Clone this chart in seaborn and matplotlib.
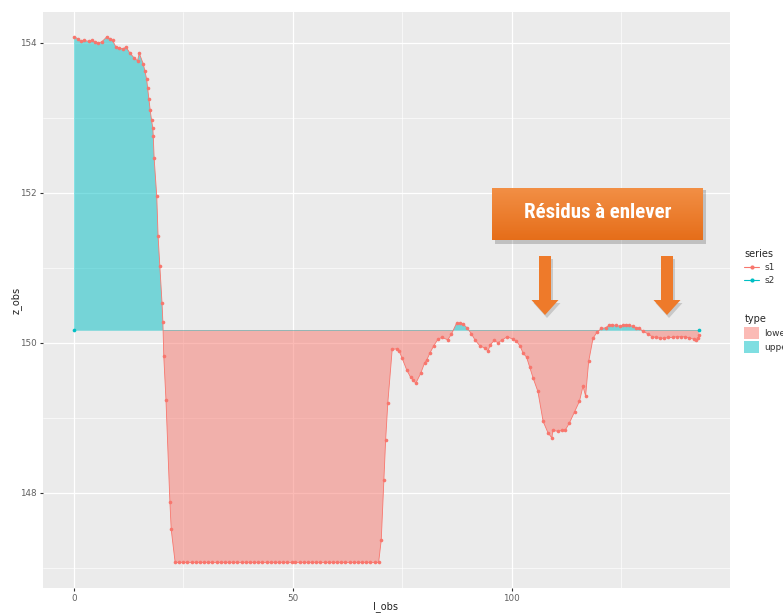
import numpy as np
import pandas as pd
import seaborn as sns
import matplotlib
matplotlib.use("Agg")
import matplotlib.pyplot as plt
from matplotlib import font_manager
from matplotlib.ticker import MultipleLocator
from matplotlib.patches import FancyArrow, Rectangle, Patch
from matplotlib.lines import Line2D

# ---------------- data ----------------
I_obs_s1 = [
    0.0, 1.0, 1.5, 2.3, 3.3, 4.2, 4.8, 5.5, 6.3, 7.5, 8.2, 8.8, 9.6, 10.3, 11.1, 11.9,
    12.8, 13.7, 14.5, 14.9, 15.8, 16.2, 16.6, 16.8, 17.1, 17.4, 17.7, 18.0, 18.1, 18.3,
    18.9, 19.2, 19.6, 20.1, 20.3, 20.5, 21.0, 21.9, 22.2, 23.1,
    24.0, 25.0, 25.9, 26.9, 27.8, 28.8, 29.7, 30.7, 31.6, 32.6, 33.5, 34.5, 35.4, 36.4,
    37.3, 38.3, 39.2, 40.2, 41.1, 42.1, 43.0, 44.0, 44.9, 45.9, 46.8, 47.8, 48.7, 49.7,
    50.6, 51.6, 52.5, 53.5, 54.4, 55.4, 56.3, 57.3, 58.2, 59.2, 60.1, 61.1, 62.0, 63.0,
    63.9, 64.9, 65.8, 66.8, 67.7, 68.7, 69.6,
    70.2, 70.8, 71.2, 71.7, 72.7, 73.8, 74.3, 75.0, 76.0, 76.9, 77.5, 78.1, 79.2, 80.1,
    80.6, 81.3, 82.2, 83.2, 84.1, 85.4, 86.2, 87.4, 88.1, 88.9, 89.8, 90.8, 91.6, 92.7,
    93.8, 94.6, 95.1, 96.0, 96.9, 97.9, 99.0, 100.2, 101.1, 102.0, 102.6, 103.4, 104.1,
    104.9, 106.0, 107.2, 108.3, 109.2, 109.4, 110.6, 111.5, 112.3, 113.2, 114.4, 115.5,
    116.3, 116.9, 117.6, 118.6, 119.5, 120.5, 121.5, 122.2, 123.0, 123.9, 124.8, 125.4,
    126.2, 126.9, 127.7, 128.5, 129.2, 130.1, 131.1, 132.1, 133.0, 133.9, 134.9, 135.8,
    136.8, 137.7, 138.7, 139.7, 140.6, 141.6, 142.2, 142.7, 142.8,
]
z_obs_s1 = [
    154.08, 154.05, 154.02, 154.03, 154.02, 154.03, 154.01, 154.00, 154.01, 154.08, 154.05,
    154.03, 153.94, 153.93, 153.92, 153.94, 153.86, 153.80, 153.76, 153.86, 153.72, 153.62,
    153.51, 153.40, 153.25, 153.10, 152.97, 152.86, 152.75, 152.46, 151.95, 151.42, 151.02,
    150.53, 150.27, 149.82, 149.24, 147.88, 147.51, 147.07,
    147.07, 147.07, 147.07, 147.07, 147.07, 147.07, 147.07, 147.07, 147.07, 147.07, 147.07,
    147.07, 147.07, 147.07, 147.07, 147.07, 147.07, 147.07, 147.07, 147.07, 147.07, 147.07,
    147.07, 147.07, 147.07, 147.07, 147.07, 147.07, 147.07, 147.07, 147.07, 147.07, 147.07,
    147.07, 147.07, 147.07, 147.07, 147.07, 147.07, 147.07, 147.07, 147.07, 147.07, 147.07,
    147.07, 147.07, 147.07, 147.07, 147.07,
    147.37, 148.17, 148.70, 149.20, 149.91, 149.92, 149.89, 149.79, 149.64, 149.54, 149.50,
    149.46, 149.59, 149.73, 149.77, 149.86, 149.96, 150.05, 150.07, 150.04, 150.11, 150.26,
    150.26, 150.25, 150.20, 150.12, 150.04, 149.96, 149.93, 149.89, 149.97, 150.03, 150.00,
    150.04, 150.08, 150.05, 150.02, 149.95, 149.86, 149.81, 149.68, 149.53, 149.35, 148.95,
    148.80, 148.73, 148.83, 148.82, 148.83, 148.84, 148.93, 149.08, 149.22, 149.42, 149.29,
    149.75, 150.06, 150.14, 150.19, 150.20, 150.23, 150.24, 150.23, 150.22, 150.23, 150.24,
    150.23, 150.22, 150.20, 150.19, 150.15, 150.12, 150.08, 150.07, 150.06, 150.06, 150.07,
    150.07, 150.08, 150.08, 150.08, 150.06, 150.05, 150.04, 150.06, 150.10,
]
I_obs_s2 = [0.0, 142.8]
z_obs_s2 = [150.17, 150.17]

series_names = ["s1", "s2"]
type_names = ["lower", "upper"]
x_ticks = [0, 50, 100]
y_ticks = [148, 150, 152, 154]
annotation = "Résidus à enlever"

# ---------------- style ----------------
RED = "#F8766D"
CYAN = "#00BFC4"

sns.set_theme(style="darkgrid", rc={
    "axes.facecolor": "#EBEBEB",
    "grid.color": "white",
    "xtick.major.size": 2.5,
    "ytick.major.size": 2.5,
    "xtick.major.width": 0.8,
    "ytick.major.width": 0.8,
    "xtick.color": "#333333",
    "ytick.color": "#333333",
    "xtick.bottom": True,
    "ytick.left": True,
})
plt.rcParams["font.family"] = ["DejaVu Sans"]

W, H = 783, 614
fig = plt.figure(figsize=(W / 100, H / 100), dpi=100)
fig.patch.set_facecolor("white")

def fx(px):
    return px / W

def fy(py):
    return 1 - py / H

ax = fig.add_axes([fx(43), fy(588), fx(730) - fx(43), fy(12) - fy(588)])

df = pd.DataFrame({
    "I_obs": I_obs_s1 + I_obs_s2,
    "z_obs": z_obs_s1 + z_obs_s2,
    "series": ["s1"] * len(I_obs_s1) + ["s2"] * len(I_obs_s2),
})

base = z_obs_s2[0]
xs = np.array(I_obs_s1)
zs = np.array(z_obs_s1)
ax.fill_between(xs, zs, base, where=zs >= base, interpolate=True,
                facecolor=CYAN, alpha=0.5, linewidth=0, zorder=2)
ax.fill_between(xs, zs, base, where=zs <= base, interpolate=True,
                facecolor=RED, alpha=0.5, linewidth=0, zorder=2)

sns.lineplot(data=df[df.series == "s2"], x="I_obs", y="z_obs", color=CYAN,
             linewidth=0.6, alpha=0.45, sort=False, estimator=None, legend=False,
             ax=ax, zorder=3)
sns.scatterplot(data=df[df.series == "s2"], x="I_obs", y="z_obs", color=CYAN,
                s=7, linewidth=0, legend=False, ax=ax, zorder=4)
sns.lineplot(data=df[df.series == "s1"], x="I_obs", y="z_obs", color=RED,
             marker="o", markersize=2.6, markeredgewidth=0, linewidth=0.6,
             sort=False, estimator=None, legend=False, ax=ax, zorder=4)

ax.set_xlim(-7.1, 149.9)
ax.set_ylim(146.73, 154.41)
ax.set_xticks(x_ticks)
ax.set_yticks(y_ticks)
ax.xaxis.set_minor_locator(MultipleLocator(25))
ax.yaxis.set_minor_locator(MultipleLocator(1))
ax.grid(which="major", color="white", linewidth=0.9)
ax.grid(which="minor", color="white", linewidth=0.45)
ax.tick_params(axis="both", which="major", labelsize=6.3, labelcolor="#606060", pad=2)
ax.tick_params(axis="both", which="minor", length=0)
for s in ax.spines.values():
    s.set_visible(False)
ax.set_xlabel("")
ax.set_ylabel("")
fig.text(fx(16), fy(300), "z_obs", rotation=90, ha="center", va="center",
         fontsize=7, color="#222222")
fig.text(fx(386), fy(607), "I_obs", ha="center", va="center",
         fontsize=7, color="#222222")

# ---------------- legends ----------------
h_series = [Line2D([0], [0], color=RED, marker="o", markersize=3, markeredgewidth=0, lw=0.8),
            Line2D([0], [0], color=CYAN, marker="o", markersize=3, markeredgewidth=0, lw=0.8)]
leg1 = fig.legend(h_series, series_names, title="series", loc="upper left",
                  bbox_to_anchor=(fx(738), fy(243)), frameon=False, fontsize=6.5,
                  title_fontsize=7, handlelength=1.6, handletextpad=0.6,
                  labelspacing=0.45, alignment="left", borderpad=0.2)
for t in leg1.get_texts():
    t.set_color("#333333")
h_type = [Patch(facecolor=RED, alpha=0.5, edgecolor="none"),
          Patch(facecolor=CYAN, alpha=0.5, edgecolor="none")]
leg2 = fig.legend(h_type, type_names, title="type", loc="upper left",
                  bbox_to_anchor=(fx(738), fy(308)), frameon=False, fontsize=6.5,
                  title_fontsize=7, handlelength=1.6, handleheight=1.6,
                  handletextpad=0.6, labelspacing=0.3, alignment="left", borderpad=0.2)
for t in leg2.get_texts():
    t.set_color("#333333")

# ---------------- annotation ----------------
fig.patches.append(Rectangle((fx(495), fy(244)), fx(703) - fx(492), fy(190) - fy(244),
                             transform=fig.transFigure, facecolor="#000000",
                             alpha=0.18, edgecolor="none", zorder=5))
bax = fig.add_axes([fx(492), fy(240), fx(703) - fx(492), fy(188) - fy(240)], zorder=6)
grad = np.linspace(0, 1, 64).reshape(-1, 1)
top = np.array([0.95, 0.56, 0.27])
bot = np.array([0.90, 0.43, 0.10])
img = top[None, None, :] * (1 - grad[:, :, None]) + bot[None, None, :] * grad[:, :, None]
bax.imshow(img, aspect="auto", extent=[0, 1, 0, 1], origin="upper")
bax.set_axis_off()

# choose a narrow/condensed family that has a bold face
def _w(f):
    w = f.weight
    if isinstance(w, str):
        return {"bold": 700, "heavy": 800, "black": 900, "semibold": 600,
                "demibold": 600, "extra bold": 800}.get(w.lower(), 400)
    return int(w)

entries = font_manager.fontManager.ttflist
bold_narrow = [f for f in entries
               if ("Narrow" in f.name or "Condensed" in f.name) and _w(f) >= 600]
bold_cond_stretch = [f for f in entries
                     if f.stretch in ("condensed", "semi-condensed") and _w(f) >= 600]
txt_kw = dict(fontweight="bold")
pref = ["Roboto Condensed", "Open Sans Condensed", "Liberation Sans Narrow",
        "DejaVu Sans Condensed"]
chosen = None
for p in pref:
    if any(f.name == p for f in bold_narrow):
        chosen = p
        break
if chosen is None and bold_narrow:
    chosen = sorted({f.name for f in bold_narrow})[0]
if chosen is not None:
    txt_kw["family"] = [chosen, "DejaVu Sans"]
elif bold_cond_stretch:
    txt_kw["family"] = [bold_cond_stretch[0].name, "DejaVu Sans"]
    txt_kw["fontstretch"] = "condensed"
else:
    txt_kw["family"] = ["Roboto", "DejaVu Sans"]

ann = bax.text(0.5, 0.52, annotation, ha="center", va="center", color="white",
               fontsize=18, transform=bax.transAxes, **txt_kw)
fig.canvas.draw()
bb = ann.get_window_extent()
target_w = 148.0
if bb.width > target_w:
    ann.set_fontsize(18 * target_w / bb.width)

for cx in (545, 667):
    for dx, dy, col, al in ((2, 3, "#000000", 0.15), (0, 0, "#EE7A2A", 1.0)):
        fig.patches.append(FancyArrow(fx(cx + dx), fy(256 + dy), 0, fy(315) - fy(256),
                                      width=fx(12), head_width=fx(27),
                                      head_length=(fy(300) - fy(315)),
                                      length_includes_head=True,
                                      transform=fig.transFigure, facecolor=col,
                                      alpha=al, edgecolor="none", zorder=5))

fig.savefig("out.png", dpi=100)
